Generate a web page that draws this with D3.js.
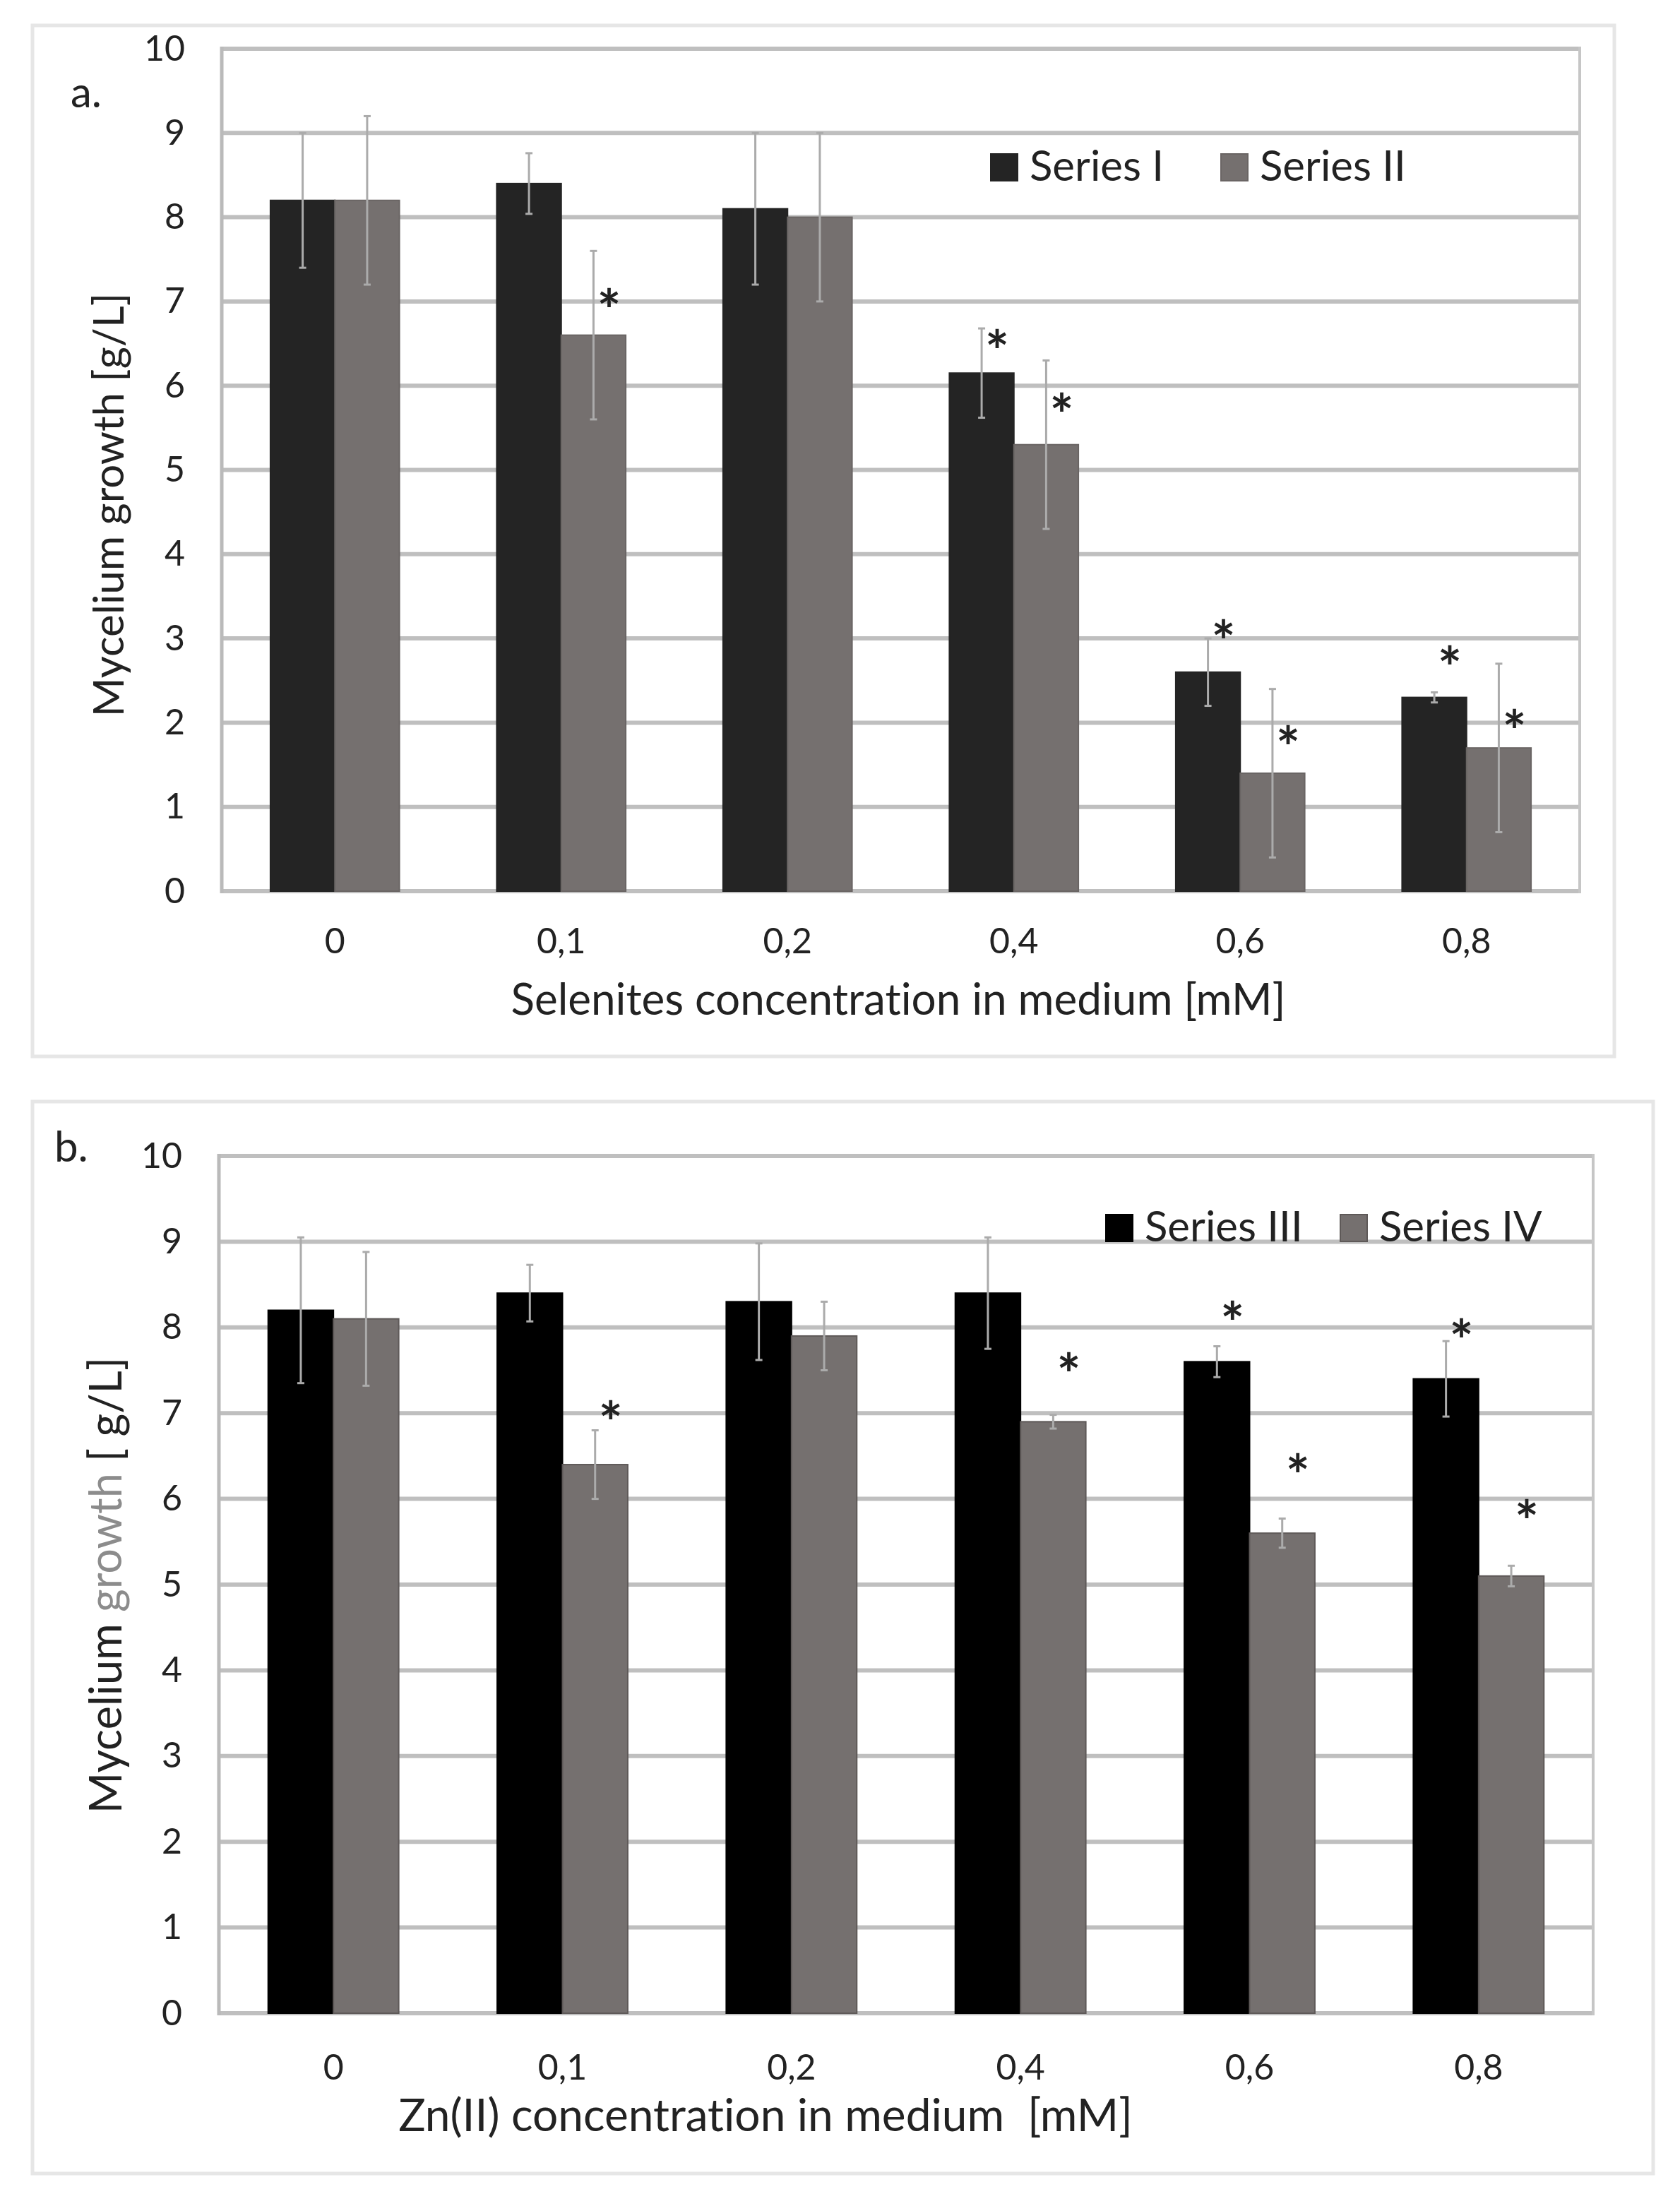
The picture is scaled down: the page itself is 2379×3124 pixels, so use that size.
<!DOCTYPE html>
<html>
<head>
<meta charset="utf-8">
<script src="https://cdnjs.cloudflare.com/ajax/libs/d3/7.8.5/d3.min.js"></script>
<style>
  body { margin: 0; background: #fff; }
  text { font-family: Lato, "Open Sans", sans-serif; fill: #222; font-variant-ligatures: none; white-space: pre; }
</style>
</head>
<body>
<div id="chart"></div>
<script>
// categories (x axis) and y ticks
const concentrations = ["0", "0,1", "0,2", "0,4", "0,6", "0,8"];
const yTicks = [0, 1, 2, 3, 4, 5, 6, 7, 8, 9, 10];

// panel a - selenites
const seriesI = [8.2, 8.4, 8.1, 6.15, 2.6, 2.3];
const seriesIErr = [0.8, 0.36, 0.9, 0.53, 0.4, 0.06];
const seriesII = [8.2, 6.6, 8.0, 5.3, 1.4, 1.7];
const seriesIIErr = [1.0, 1.0, 1.0, 1.0, 1.0, 1.0];
const seriesIStar = [null, null, null, 6.5, 3.05, 2.74];
const seriesIIStar = [null, 6.98, null, 5.74, 1.79, 1.99];

// panel b - Zn(II)
const seriesIII = [8.2, 8.4, 8.3, 8.4, 7.6, 7.4];
const seriesIIIErr = [0.85, 0.33, 0.68, 0.65, 0.18, 0.44];
const seriesIV = [8.1, 6.4, 7.9, 6.9, 5.6, 5.1];
const seriesIVErr = [0.78, 0.4, 0.4, 0.08, 0.17, 0.12];
const seriesIIIStar = [null, null, null, null, 8.14, 7.93];
const seriesIVStar = [null, 6.98, null, 7.54, 6.36, 5.82];

const W = 2379, H = 3124;
const svg = d3.select("#chart").append("svg")
              .attr("width", W)
              .attr("height", H);
svg.append("rect").attr("width", W).attr("height", H).attr("fill", "#fff");

function drawPanel(p) {
  let g = svg.append("g");

  // outer light frame
  g.append("rect")
   .attr("x", p.frame[0]).attr("y", p.frame[1])
   .attr("width", p.frame[2]).attr("height", p.frame[3])
   .attr("fill", "none")
   .attr("stroke", "#e6e6e6")
   .attr("stroke-width", 5);

  let x = d3.scaleBand()
            .domain(concentrations)
            .range([p.left, p.right])
            .paddingInner(0.43)
            .paddingOuter(0.215);
  let x1 = d3.scaleBand()
             .domain([0, 1])
             .range([0, x.bandwidth()]);
  let y = d3.scaleLinear()
            .domain([0, 10])
            .range([p.bottom, p.top]);

  // gridlines
  g.append("g").selectAll("line").data(yTicks).enter().append("line")
   .attr("x1", p.left).attr("x2", p.right)
   .attr("y1", d => y(d)).attr("y2", d => y(d))
   .attr("stroke", "#bfbfbf")
   .attr("stroke-width", 6);

  // plot frame sides
  g.append("line").attr("x1", p.left).attr("x2", p.left)
   .attr("y1", p.top - 3).attr("y2", p.bottom + 3)
   .attr("stroke", "#bababa").attr("stroke-width", 5);
  g.append("line").attr("x1", p.right).attr("x2", p.right)
   .attr("y1", p.top - 3).attr("y2", p.bottom + 3)
   .attr("stroke", "#c6c6c6").attr("stroke-width", 4);

  // y tick labels via axis
  let yAxis = d3.axisLeft(y).tickValues(yTicks).tickSize(0).tickPadding(0);
  let ya = g.append("g")
            .attr("transform", "translate(" + p.yLabelX + ",0)")
            .call(yAxis);
  ya.select(".domain").remove();
  ya.selectAll("text")
    .style("font-family", "Lato, sans-serif")
    .style("font-size", "50px")
    .attr("fill", "#222");

  // x tick labels via axis
  let xAxis = d3.axisBottom(x).tickSize(0).tickPadding(0);
  let xa = g.append("g")
            .attr("transform", "translate(0," + p.xLabelY + ")")
            .call(xAxis);
  xa.select(".domain").remove();
  xa.selectAll("text")
    .attr("dy", 0)
    .attr("y", 0)
    .style("font-family", "Lato, sans-serif")
    .style("font-size", "50px")
    .attr("fill", "#222");

  // bars
  let series = [p.s1, p.s2];
  let errs = [p.e1, p.e2];
  let stars = [p.st1, p.st2];
  series.forEach(function (vals, k) {
    g.append("g").selectAll("rect").data(vals).enter().append("rect")
     .attr("x", (d, i) => x(concentrations[i]) + x1(k))
     .attr("y", d => y(d))
     .attr("width", x1.bandwidth())
     .attr("height", d => y(0) - y(d))
     .attr("fill", p.colors[k])
     .attr("stroke", p.strokes[k])
     .attr("stroke-width", 2);
  });

  // error bars (light grey, drawn over the bars)
  series.forEach(function (vals, k) {
    let eg = g.append("g");
    vals.forEach(function (v, i) {
      let cx = x(concentrations[i]) + x1(k) + x1.bandwidth() / 2;
      let e = errs[k][i];
      eg.append("line")
        .attr("x1", cx).attr("x2", cx)
        .attr("y1", y(v + e)).attr("y2", y(v - e))
        .attr("stroke", "#ababab").attr("stroke-width", 3);
      [v + e, v - e].forEach(function (t) {
        eg.append("line")
          .attr("x1", cx - 5).attr("x2", cx + 5)
          .attr("y1", y(t)).attr("y2", y(t))
          .attr("stroke", "#ababab").attr("stroke-width", 3);
      });
    });
  });

  // significance asterisks
  stars.forEach(function (vals, k) {
    g.append("g").selectAll("text").data(vals.map((v, i) => [v, i]).filter(d => d[0] != null))
     .enter().append("text")
     .attr("x", d => x(concentrations[d[1]]) + x1(k) + x1.bandwidth() / 2 + 22)
     .attr("y", d => y(d[0]) + 40)
     .attr("text-anchor", "middle")
     .style("font-size", "80px")
     .style("font-weight", "bold")
     .attr("fill", "#111")
     .text("*");
  });

  // legend
  p.legend.forEach(function (it, k) {
    g.append("rect")
     .attr("x", it.x).attr("y", p.legendY - 38)
     .attr("width", 38).attr("height", 38)
     .attr("fill", p.colors[k])
     .attr("stroke", p.strokes[k]).attr("stroke-width", 2);
    g.append("text")
     .attr("x", it.x + 55).attr("y", p.legendY)
     .style("font-size", "60px")
     .attr("fill", "#222")
     .text(it.name);
  });

  // panel letter
  g.append("text")
   .attr("x", p.letter[0]).attr("y", p.letter[1])
   .style("font-size", "60px")
   .attr("fill", "#111")
   .text(p.letterText);

  // axis titles
  g.append("text")
   .attr("x", p.xTitle[0]).attr("y", p.xTitle[1])
   .attr("text-anchor", "middle")
   .style("font-size", p.xTitleSize)
   .attr("fill", "#222")
   .text(p.xTitleText);

  let yt = g.append("text")
            .attr("transform", "translate(" + p.yTitle[0] + "," + p.yTitle[1] + ") rotate(-90)")
            .attr("text-anchor", "middle")
            .style("font-size", p.yTitleSize)
            .attr("fill", "#222");
  p.yTitleParts.forEach(function (part) {
    yt.append("tspan").attr("fill", part[1]).text(part[0]);
  });
}

drawPanel({
  frame: [46, 36, 2240, 1460],
  left: 314, right: 2237, top: 69, bottom: 1262,
  yLabelX: 262, xLabelY: 1350,
  s1: seriesI, s2: seriesII, e1: seriesIErr, e2: seriesIIErr,
  st1: seriesIStar, st2: seriesIIStar,
  colors: ["#242424", "#75706f"], strokes: ["#242424", "#6a6564"],
  legendY: 256,
  legend: [{x: 1403, name: "Series I"}, {x: 1729, name: "Series II"}],
  letter: [100, 152], letterText: "a.",
  xTitle: [1272, 1437], xTitleSize: "62px", xTitleText: "Selenites concentration in medium [mM]",
  yTitle: [175, 715], yTitleSize: "60px", yTitleParts: [["Mycelium growth [g/L]", "#222"]]
});

drawPanel({
  frame: [46, 1560, 2295, 1518],
  left: 310, right: 2256, top: 1637, bottom: 2851,
  yLabelX: 258, xLabelY: 2945,
  s1: seriesIII, s2: seriesIV, e1: seriesIIIErr, e2: seriesIVErr,
  st1: seriesIIIStar, st2: seriesIVStar,
  colors: ["#000000", "#75706f"], strokes: ["#000000", "#5e5958"],
  legendY: 1758,
  legend: [{x: 1566, name: "Series III"}, {x: 1898, name: "Series IV"}],
  letter: [77, 1645], letterText: "b.",
  xTitle: [1084, 3018], xTitleSize: "64px", xTitleText: "Zn(II) concentration in medium  [mM]",
  yTitle: [172, 2245], yTitleSize: "63px", yTitleParts: [["Mycelium ", "#222"], ["growth", "#8c8c8c"], [" [ g/L]", "#222"]]
});
</script>
</body>
</html>
